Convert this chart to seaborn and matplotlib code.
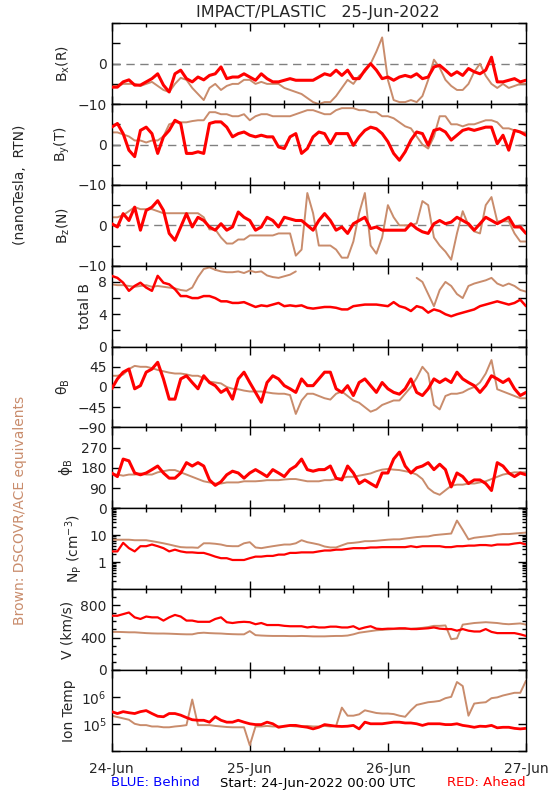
import numpy as np
import pandas as pd
import matplotlib
matplotlib.use("Agg")
import matplotlib.pyplot as plt
import matplotlib.ticker as mticker
import seaborn as sns

# ---------------- data (hourly samples, hours since 24-Jun-2022 00:00 UTC) ----------------
hours = list(range(73))
day_ticks = [0, 24, 48, 72]
day_labels = ["24-Jun", "25-Jun", "26-Jun", "27-Jun"]

bx_red = [-5.8,-5.8,-4.5,-4.0,-5.3,-5.3,-4.5,-3.7,-2.5,-5.3,
          -7.0,-2.5,-1.6,-3.7,-4.5,-3.3,-4.0,-2.9,-2.5,-0.8,
          -3.7,-3.3,-3.3,-2.5,-3.3,-4.1,-2.5,-3.7,-4.5,-4.5,
          -4.1,-3.7,-4.1,-4.1,-4.1,-4.1,-3.3,-2.5,-2.9,-1.6,
          -2.9,-1.6,-3.7,-3.7,-1.6,0.0,-1.6,-3.7,-3.3,-4.1,
          -3.3,-2.9,-3.3,-2.5,-3.7,-3.3,-0.8,-0.4,-1.6,-2.9,
          -2.0,-2.9,-1.2,-2.0,-2.5,-1.6,1.6,-4.5,-4.5,-4.1,
          -3.7,-4.5,-4.1]
bx_brown = [-5.5,-5.5,-5,-5,-5,-5.5,-5,-4.5,-5.5,-6.5,
            -7,-5,-3.5,-4,-6,-7.5,-9,-6,-5,-6.5,
            -5.5,-5,-5,-4,-4,-5,-4.5,-5,-5,-5,
            -6,-6.5,-7,-7.5,-8.5,-9.5,-10,-9.5,-9.5,-8,
            -6,-4,-5,-3,-2,0,3,6.5,-4,-9,
            -9.5,-9.5,-9,-9.5,-8,-4,1,-1,-4,-5.5,
            -6.5,-6.5,-5,-2,0,-3,-5,-6,-5,-6,
            -5.5,-5,-5]

by_red = [4.3,5.2,2.7,-1.4,-3.0,3.5,4.3,2.7,-2.2,1.9,
          3.5,6.0,5.2,-2.2,-2.2,-1.8,-2.2,5.2,5.6,5.6,
          4.3,1.9,2.7,3.1,2.3,1.9,2.3,1.9,1.9,-0.6,
          -1.0,1.9,2.7,-2.2,-1.0,1.9,3.1,2.7,0.2,2.7,
          2.7,2.7,-0.2,1.9,3.5,4.3,3.9,2.7,0.7,-2.2,
          -3.9,-1.8,1.1,3.1,2.7,-0.2,3.5,3.9,3.1,1.1,
          2.3,3.5,3.9,3.5,3.9,4.3,4.3,0.2,2.3,-1.4,
          3.5,3.1,2.3]
by_brown = [3,3,2.5,2,1,1,0.5,1,1,2,
            5,5.5,5.5,5.5,5.8,6,6,8,8,7.5,
            7.5,7,7,7.5,6,7,7.5,7.5,7,7,
            7,7,7.5,8,8.5,8.5,8,7.5,7.5,8.5,
            9,9,9,8.5,8.5,8,8,7,7,6.5,
            5.5,4.5,4,2,0,-1,2,7,7,5,
            5,4.5,5,5,5.5,6,6,5.5,4,4,
            3.5,3,3]

bz_red = [0.4,-0.4,2.9,1.2,4.5,-1.2,3.7,4.5,6.1,3.7,
          -2.0,-3.7,-0.4,2.9,-0.4,2.0,1.2,-0.4,-1.2,0.4,
          -1.2,-0.4,3.3,2.0,1.2,-1.2,-0.4,2.0,1.2,-0.4,
          2.0,1.6,1.2,1.2,0.0,-1.2,1.2,2.9,1.2,-1.2,
          -0.4,-2.0,0.4,1.2,2.0,-0.8,-0.4,-1.2,-1.2,-1.2,
          -1.2,-1.2,0.4,-0.8,-1.6,-2.0,0.4,1.2,0.4,0.8,
          2.0,1.2,0.4,-1.2,0.4,2.0,1.2,0.4,1.2,2.0,
          -0.4,-0.4,-2.0]
bz_brown = [2,2,2.5,3.5,4.5,4,4,4,3.5,3,
            3,3,3,3,3,3,2,-1,-1,-3,
            -4.5,-4.5,-3.5,-3.5,-2.5,-2.5,-2.5,-2.5,-2.5,-2,
            -2,-2,-7.5,-6,8,3,-5,-5,-5,-6,
            -8,-8,-4,3,8,-5,-7,-3,5,2,
            0,0,0,0.5,6,5,-3,-5,-6.5,-8.5,
            -2,3.5,0,-1.5,-2,5,7,1,1,1,
            -2,-4,-4]

btot_red = [8.75,8.5,7.9,6.9,7.5,7.9,7.3,6.9,8.75,7.9,
            7.7,7.1,6.25,6.25,6.0,6.0,6.25,6.25,6.0,5.6,
            5.6,5.4,5.4,5.5,5.2,4.9,5.1,5.0,5.2,5.4,
            5.0,5.1,5.0,5.1,4.8,4.7,4.8,4.9,4.9,4.8,
            4.6,4.6,5.0,5.1,5.2,5.2,5.2,5.1,5.0,5.5,
            5.0,4.8,4.4,5.0,4.8,4.2,4.6,4.4,4.0,3.75,
            4.0,4.2,4.4,4.6,5.0,5.2,5.4,5.6,5.4,5.2,
            5.4,5.8,5.0]
btot_brown = [7.7,7.6,7.6,7.5,7.4,7.5,7.6,7.4,7.5,7.4,
              7.3,7.2,7.0,6.9,7.3,8.6,9.6,9.8,9.5,9.3,
              9.2,9.2,9.3,9.1,9.4,9.2,9.3,8.8,8.6,8.5,
              8.7,8.9,9.3] + [np.nan] * 20 + [
              8.5,8,6.5,5,7,8,7.5,
              6.5,6,7.5,7.8,8,8.2,8.5,7.8,7.5,7.8,
              7.5,7,6.8]

theta_red = [-4,18,33,40,-4,3,33,40,55,18,
             -27,-27,18,25,10,-4,25,10,3,-12,
             -4,-27,18,33,10,-12,-34,10,25,18,
             3,-4,-12,18,3,3,18,33,33,-4,
             -12,3,-19,10,18,3,-12,10,-4,-12,
             -16,-4,18,-12,-19,-4,18,10,18,10,
             33,18,10,3,-12,3,25,18,10,18,
             -4,-19,-12]
theta_brown = [25,25,28,40,47,45,45,42,38,35,
               32,30,30,28,25,25,20,12,10,8,
               0,-4,-5,-8,-10,-10,-10,-12,-14,-15,
               -15,-18,-60,-30,-15,-15,-20,-25,-28,-15,
               -10,-20,-30,-35,-45,-55,-50,-40,-35,-30,
               -30,-15,0,20,45,30,-40,-50,-20,-15,
               -15,-12,-5,0,10,30,60,-5,-10,-15,
               -20,-25,-25]

phi_red = [157,141,219,211,157,149,157,172,188,157,
           134,134,157,203,188,203,188,126,102,118,
           149,165,157,134,157,172,157,141,172,157,
           141,172,188,219,172,165,172,172,188,134,
           126,188,157,110,126,110,95,157,157,219,
           250,188,157,180,188,203,172,196,172,95,
           157,141,110,126,126,110,79,203,188,157,
           141,157,149]
phi_brown = [150,150,145,150,150,155,150,150,160,165,
             170,170,160,150,140,130,120,115,110,110,
             115,115,115,120,120,120,122,125,125,125,
             128,130,130,125,120,120,120,125,125,130,
             135,140,140,145,150,155,165,172,175,172,
             170,165,160,150,130,90,70,60,80,100,
             105,105,110,110,115,120,130,140,150,155,
             160,160,160]

np_red = [2.5,2.5,5.2,3.3,2.5,3.9,3.9,4.5,3.9,3.3,
          2.5,2.9,2.5,2.3,2.3,2.2,2.2,1.9,1.6,1.4,
          1.4,1.2,1.2,1.2,1.4,1.6,1.6,1.7,1.7,1.9,
          1.9,2.2,2.2,2.3,2.3,2.3,2.5,2.7,2.7,2.9,
          2.9,3.1,3.3,3.3,3.3,3.5,3.5,3.6,3.6,3.6,
          3.6,3.6,3.9,3.6,3.9,3.9,3.9,3.9,3.6,3.6,
          3.9,3.9,4.1,4.1,4.3,4.3,4.1,4.5,4.5,4.5,
          4.9,5.2,4.5]
np_brown = [6.8,6.8,6.8,6.8,6.5,6.5,6.5,6.0,5.5,5.0,
            4.5,4.0,3.6,3.5,3.5,3.4,5.0,5.0,4.8,4.5,
            4.0,3.9,3.9,5.0,5.5,3.5,3.3,3.6,3.9,4.2,
            4.5,4.5,5.0,6.5,5.5,5.0,4.5,3.8,3.5,3.5,
            4.2,5.0,5.2,5.5,6.0,6.0,6.2,6.5,6.8,7.0,
            7.0,7.5,8.0,8.5,8.8,9.0,10.0,10.5,11.0,11.5,
            35,16,7,8,8.5,9,9.5,10.5,11,11,
            11.5,12,12.5]

v_red = [670,670,690,710,650,630,660,650,650,610,
         650,680,660,610,610,595,595,595,630,650,
         590,580,590,595,590,565,580,555,555,555,
         545,540,540,540,525,535,525,525,535,535,
         525,525,540,505,525,540,510,505,510,510,
         515,515,505,505,510,515,525,510,505,505,
         485,505,485,475,475,505,470,455,455,455,
         455,440,420]
v_brown = [470,470,468,465,465,460,455,452,450,450,
           448,445,442,440,440,455,460,455,452,450,
           445,442,440,440,480,430,425,422,420,420,
           420,418,418,420,418,415,415,415,418,420,
           420,425,440,460,470,480,490,495,500,505,
           505,505,510,515,520,530,545,545,550,380,
           390,560,570,580,585,590,585,580,570,565,
           570,575,560]

temp_red_log10 = [5.45,5.38,5.45,5.41,5.38,5.45,5.49,5.38,5.28,5.26,
                  5.38,5.38,5.32,5.23,5.15,5.13,5.13,5.06,5.26,5.13,
                  5.06,5.06,5.13,5.06,5.0,4.97,4.97,5.06,5.0,4.87,
                  4.91,4.94,4.94,4.9,4.87,4.81,4.87,4.97,4.94,4.91,
                  4.9,4.91,4.94,4.81,5.06,5.0,5.0,5.0,5.03,5.06,
                  5.06,5.03,5.03,5.0,4.94,5.0,5.0,5.0,4.97,4.97,
                  5.0,4.94,4.91,4.87,4.91,4.9,4.94,4.85,4.87,4.87,
                  4.83,4.81,4.83]
temp_brown_log10 = [5.3,5.25,5.2,5.15,5.0,4.95,4.95,4.9,4.9,4.87,
                    4.87,4.9,4.92,4.95,5.9,4.95,4.95,4.95,4.92,4.9,
                    4.88,4.87,4.87,4.87,4.2,4.9,4.9,4.92,4.9,4.9,
                    4.9,4.92,4.9,4.9,4.92,4.9,4.9,4.92,4.9,4.92,
                    5.6,5.3,5.3,5.35,5.5,5.45,5.4,5.38,5.38,5.36,
                    5.3,5.26,5.5,5.7,5.75,5.8,5.82,5.85,5.95,6.0,
                    6.55,6.4,5.3,5.75,5.78,5.8,5.95,5.98,6.05,6.1,
                    6.15,6.15,6.6]

# ---------------- style ----------------
sns.set_theme(style="ticks")
plt.rcParams["font.family"] = ["DejaVu Sans"]
plt.rcParams["mathtext.default"] = "regular"
plt.rcParams["axes.linewidth"] = 1.0

RED = "#ff0000"
BROWN = "#c98c6c"
FS = 10

fig = plt.figure(figsize=(5.5, 8), dpi=100)
axes = fig.subplots(9, 1, sharex=True)
fig.subplots_adjust(left=0.203, right=0.9564, top=0.9709, bottom=0.0616, hspace=0)


def segments(y):
    y = np.asarray(y, dtype=float)
    return np.cumsum(np.isnan(y))


def draw(ax, red, brown, red_lw):
    red = np.asarray(red, dtype=float)
    brown = np.asarray(brown, dtype=float)
    dfb = pd.DataFrame({"h": hours, "v": brown, "seg": segments(brown)}).dropna()
    sns.lineplot(data=dfb, x="h", y="v", units="seg", estimator=None, ax=ax,
                 color=BROWN, lw=1.4, zorder=2)
    dfr = pd.DataFrame({"h": hours, "v": red})
    sns.lineplot(data=dfr, x="h", y="v", estimator=None, ax=ax,
                 color=RED, lw=red_lw, zorder=3)
    ax.set_xlabel("")


panels = [
    (bx_red, bx_brown, r"B$_x$(R)", 2.2),
    (by_red, by_brown, r"B$_y$(T)", 2.2),
    (bz_red, bz_brown, r"B$_z$(N)", 2.2),
    (btot_red, btot_brown, "total B", 1.8),
    (theta_red, theta_brown, r"$\theta_B$", 2.2),
    (phi_red, phi_brown, r"$\phi_B$", 2.2),
    (np_red, np_brown, r"N$_P$ (cm$^{-3}$)", 1.6),
    (v_red, v_brown, "V (km/s)", 1.6),
    ([10 ** t for t in temp_red_log10], [10 ** t for t in temp_brown_log10], "Ion Temp", 2.0),
]

for i, (ax, (r, b, lab, lw)) in enumerate(zip(axes, panels)):
    if i in (6, 8):
        ax.set_yscale("log")
    draw(ax, r, b, lw)
    ax.set_ylabel(lab, fontsize=FS)
    ax.set_xlim(0, 72)
    ax.tick_params(axis="both", which="both", direction="in", top=True, right=True,
                   labelsize=FS, width=1, color="black")
    ax.tick_params(axis="both", which="major", length=6)
    ax.tick_params(axis="both", which="minor", length=3)
    for s in ax.spines.values():
        s.set_linewidth(1.0)
        s.set_color("black")

# B components
for ax in axes[:3]:
    ax.set_ylim(-10, 10)
    ax.yaxis.set_major_locator(mticker.FixedLocator([-10, -5, 0, 5, 10]))
    ax.yaxis.set_major_formatter(mticker.FixedFormatter(["\u221210", "", "0", "", ""]))
    ax.axhline(0, color="#808080", lw=1.0, ls=(0, (6, 4)), zorder=1)

ax = axes[3]
ax.set_ylim(0, 10)
ax.yaxis.set_major_locator(mticker.FixedLocator([0, 2, 4, 6, 8, 10]))
ax.yaxis.set_major_formatter(mticker.FixedFormatter(["0", "", "4", "", "8", ""]))

ax = axes[4]
ax.set_ylim(-90, 90)
ax.yaxis.set_major_locator(mticker.FixedLocator([-90, -45, 0, 45, 90]))
ax.yaxis.set_major_formatter(mticker.FixedFormatter(["\u221290", "\u221245", "0", "45", ""]))

ax = axes[5]
ax.set_ylim(0, 360)
ax.yaxis.set_major_locator(mticker.FixedLocator([0, 90, 180, 270, 360]))
ax.yaxis.set_major_formatter(mticker.FixedFormatter(["0", "90", "180", "270", ""]))

ax = axes[6]
ax.set_ylim(0.1, 100)
ax.yaxis.set_major_locator(mticker.FixedLocator([0.1, 1, 10, 100]))
ax.yaxis.set_major_formatter(mticker.FixedFormatter(["", "1", "10", ""]))
ax.yaxis.set_minor_locator(mticker.LogLocator(base=10, subs=np.arange(2, 10)))
ax.yaxis.set_minor_formatter(mticker.NullFormatter())

ax = axes[7]
ax.set_ylim(0, 1000)
ax.yaxis.set_major_locator(mticker.FixedLocator([0, 400, 800]))
ax.yaxis.set_major_formatter(mticker.FixedFormatter(["0", "400", "800"]))
ax.yaxis.set_minor_locator(mticker.MultipleLocator(100))

ax = axes[8]
ax.set_ylim(1e4, 1e7)
ax.yaxis.set_major_locator(mticker.FixedLocator([1e4, 1e5, 1e6, 1e7]))
ax.yaxis.set_major_formatter(mticker.FixedFormatter(["", r"10$^5$", r"10$^6$", ""]))
ax.yaxis.set_minor_locator(mticker.LogLocator(base=10, subs=np.arange(2, 10)))
ax.yaxis.set_minor_formatter(mticker.NullFormatter())

for ax in axes:
    ax.xaxis.set_major_locator(mticker.FixedLocator(day_ticks))
    ax.xaxis.set_minor_locator(mticker.MultipleLocator(6))
axes[-1].xaxis.set_major_formatter(mticker.FixedFormatter(day_labels))
axes[-1].tick_params(axis="x", which="major", pad=8)

# ---------------- texts ----------------
fig.text(0.578, 1 - 12 / 800, "IMPACT/PLASTIC   25-Jun-2022", ha="center", va="center", fontsize=11.5)
fig.text(20 / 550, 1 - 185 / 800, "(nanoTesla,  RTN)", rotation=90, ha="center", va="center", fontsize=FS)
fig.text(20 / 550, 1 - 510 / 800, "Brown: DSCOVR/ACE equivalents", rotation=90, ha="center", va="center",
         fontsize=FS, color=BROWN)
fig.text(111 / 550, 1 - 783 / 800, "BLUE: Behind", color="blue", ha="left", va="center", fontsize=9.5)
fig.text(318 / 550, 1 - 783 / 800, "Start: 24-Jun-2022 00:00 UTC", color="black", ha="center", va="center",
         fontsize=9.5)
fig.text(526 / 550, 1 - 783 / 800, "RED: Ahead", color="red", ha="right", va="center", fontsize=9.5)

fig.savefig("out.png", dpi=100)
